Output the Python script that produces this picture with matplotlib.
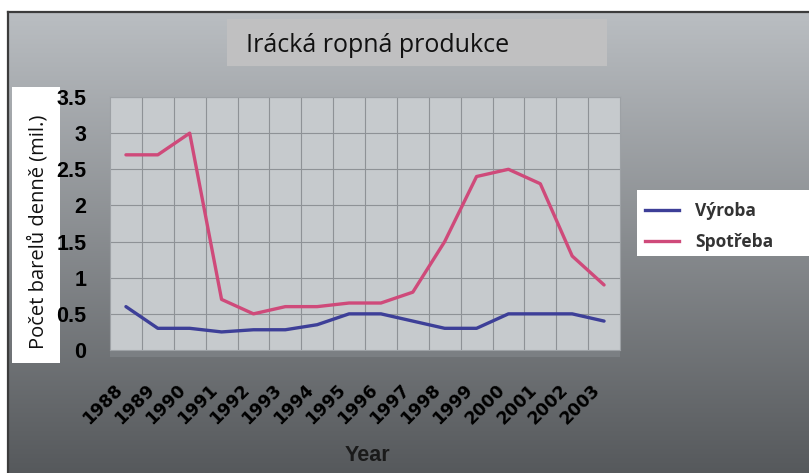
import numpy as np
import matplotlib
matplotlib.use("Agg")
import matplotlib.pyplot as plt
from matplotlib.patches import Rectangle
from matplotlib.lines import Line2D

# data
years = ['1988', '1989', '1990', '1991', '1992', '1993', '1994', '1995',
         '1996', '1997', '1998', '1999', '2000', '2001', '2002', '2003']
vyroba = [0.6, 0.3, 0.3, 0.25, 0.28, 0.28, 0.35, 0.5,
          0.5, 0.4, 0.3, 0.3, 0.5, 0.5, 0.5, 0.4]
spotreba = [2.7, 2.7, 3.0, 0.7, 0.5, 0.6, 0.6, 0.65,
            0.65, 0.8, 1.5, 2.4, 2.5, 2.3, 1.3, 0.9]
yticks = [0, 0.5, 1, 1.5, 2, 2.5, 3, 3.5]
ytick_labels = ['0', '0.5', '1', '1.5', '2', '2.5', '3', '3.5']

W, H = 809, 473
c_vyroba = "#3d3f98"
c_spotreba = "#cf4a7a"

fig = plt.figure(figsize=(W / 100, H / 100), dpi=100)
fig.patch.set_facecolor("white")

# background layer in pixel coords
bg = fig.add_axes([0, 0, 1, 1], zorder=0)
bg.set_xlim(0, W)
bg.set_ylim(H, 0)
bg.axis("off")
grad = np.linspace(0, 1, 256).reshape(-1, 1)
top = np.array([186, 190, 194]) / 255
bot = np.array([86, 89, 92]) / 255
img = top + (bot - top) * grad[..., None]
img = np.repeat(img, 2, axis=1)
bg.imshow(img, extent=[8, W, H, 12], aspect="auto", interpolation="bilinear")
bg.plot([8, W], [12, 12], color="#3c3c3c", lw=1.6)
bg.plot([8, 8], [12, H], color="#3c3c3c", lw=1.6)

# title box
bg.add_patch(Rectangle((227, 19), 380, 47, facecolor="#c0c0c1", edgecolor="none"))
bg.text(378, 45, "Irácká ropná produkce", ha="center", va="center",
        fontsize=18, family="Open Sans", color="#111111")

# y label box
bg.add_patch(Rectangle((12, 87), 48, 276, facecolor="white", edgecolor="none"))
bg.text(38, 232, "Počet barelů denně (mil.)", ha="center", va="center",
        rotation=90, fontsize=14.5, family="Open Sans", color="#111111")

# legend box
bg.add_patch(Rectangle((637, 190), 172, 66, facecolor="white", edgecolor="none"))

# floor strip under plot
bg.add_patch(Rectangle((110, 350), 510, 7, facecolor="#7b7f83", edgecolor="none"))

# main plot
ax = fig.add_axes([110 / W, (H - 350) / H, 510 / W, 253 / H], zorder=1)
ax.set_facecolor("#c6cacd")
x = np.arange(len(years))
ax.plot(x, vyroba, color=c_vyroba, lw=2.4, label="Výroba", solid_capstyle="round")
ax.plot(x, spotreba, color=c_spotreba, lw=2.4, label="Spotřeba", solid_capstyle="round")
ax.set_xlim(-0.5, len(years) - 0.5)
ax.set_ylim(0, 3.5)

ax.set_yticks(yticks)
ax.set_yticklabels(ytick_labels, fontsize=15.5, fontweight="bold", family="Liberation Sans")
ax.set_xticks(x - 0.4)
ax.set_xticklabels(years, rotation=45, ha="right", va="top", rotation_mode="anchor",
                   fontsize=12.5, fontweight="bold", family="DejaVu Sans")
ax.tick_params(axis="y", length=0, pad=17)
ax.tick_params(axis="x", length=0, pad=22)

for b in np.arange(0.5, len(years) - 0.5, 1):
    ax.axvline(b, color="#8e9296", lw=0.8, zorder=0.5)
for yv in yticks[1:]:
    ax.axhline(yv, color="#8e9296", lw=0.8, zorder=0.5)
for s in ax.spines.values():
    s.set_color("#9da1a5")
    s.set_linewidth(0.8)

bg.text(367, 455, "Year", ha="center", va="center", fontsize=15.5,
        fontweight="bold", family="Liberation Sans", color="#1a1a1a")

fig.legend(handles=[Line2D([], [], color=c_vyroba, lw=2.4),
                    Line2D([], [], color=c_spotreba, lw=2.4)],
           labels=["Výroba", "Spotřeba"],
           loc="upper left", bbox_to_anchor=(629 / W, 1 - 186 / H),
           frameon=False, handlelength=2.0, handletextpad=0.9, labelspacing=0.75,
           prop={"family": "Open Sans", "weight": "bold", "size": 12.5},
           labelcolor="#333333")

fig.savefig("out.png", dpi=100, facecolor=fig.get_facecolor())
